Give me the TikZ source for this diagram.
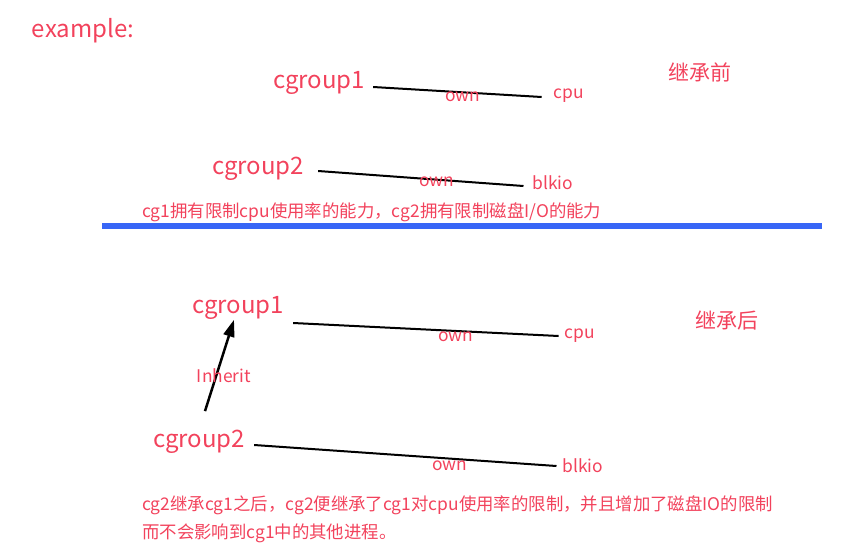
\documentclass[tikz,border=0pt]{standalone}
\usepackage{fontspec}
\setmainfont{Noto Sans CJK SC}
\usetikzlibrary{arrows.meta}
\definecolor{pinkred}{RGB}{242,66,92}
\definecolor{ruleblue}{RGB}{56,102,246}

\begin{document}
\begin{tikzpicture}[x=1pt, y=-1pt,
        every node/.style={text=pinkred, inner sep=2pt},
        big/.style={font=\fontsize{24}{28}\selectfont},
        mid/.style={font=\fontsize{21}{25}\selectfont},
        small/.style={font=\fontsize{17.4}{28}\selectfont},
        link/.style={draw=black, line width=2pt},
        inherit/.style={draw=black, line width=2.5pt, -{Triangle[length=17pt, width=11pt]}}]
    \useasboundingbox (0,0) rectangle (842,546);
    % before inheriting
    \node[big] (ex) at (83,31) {example:};
    \node[big] (cgA) at (319,83) {cgroup1};
    \node[small] (cpuA) at (569,96) {cpu};
    \node[mid] (before) at (700,72) {继承前};
    \node[big] (cgB) at (258,169) {cgroup2};
    \node[small] (blkB) at (553,183) {blkio};
    \draw[link] ([xshift=6pt, yshift=-4pt]cgA.east) -- ([xshift=-10pt, yshift=-1pt]cpuA.west);
    \draw[link] ([xshift=12pt, yshift=-2pt]cgB.east) -- ([xshift=-7pt, yshift=-3pt]blkB.west);
    \node[small] (ownA) at (463,97) {own};
    \node[small] (ownB) at (437,182) {own};
    \node[small, anchor=west] (noteA) at (140,212) {cg1拥有限制cpu使用率的能力，cg2拥有限制磁盘I/O的能力};
    \draw[ruleblue, line width=5.5pt] (102,226) -- (822,226);
    % after inheriting
    \node[big] (cgC) at (238,308) {cgroup1};
    \node[small] (cpuC) at (580,336) {cpu};
    \node[mid] (after) at (727,321) {继承后};
    \node[big] (cgD) at (199,442) {cgroup2};
    \node[small] (blkD) at (583,466) {blkio};
    \draw[link] ([xshift=7pt, yshift=-15pt]cgC.east) -- ([xshift=-4pt]cpuC.west);
    \draw[link] ([xshift=7pt, yshift=-3pt]cgD.east) -- ([xshift=-4pt]blkD.west);
    \node[small] (ownC) at (456,337) {own};
    \node[small] (ownD) at (450,466) {own};
    \draw[inherit] ([xshift=6pt, yshift=17pt]cgD.north) -- ([xshift=-4pt, yshift=2pt]cgC.south);
    \node[small] (inh) at (224,376) {Inherit};
    \node[small, anchor=west, align=left] (noteB) at (140,519)
        {cg2继承cg1之后，cg2便继承了cg1对cpu使用率的限制，并且增加了磁盘IO的限制\\
         而不会影响到cg1中的其他进程。};
\end{tikzpicture}
\end{document}
